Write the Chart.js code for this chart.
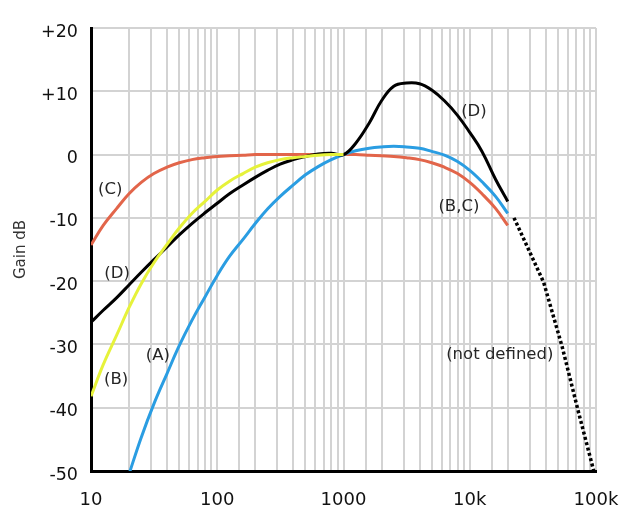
<!DOCTYPE html>
<html>
<head>
<meta charset="utf-8">
<script src="https://cdn.jsdelivr.net/npm/chart.js@4/dist/chart.umd.min.js"></script>
<style>
  body { margin: 0; background: #fff; }
</style>
</head>
<body>
<canvas id="weightChart" width="619" height="519"></canvas>
<script>
const freqs = [10, 12.5, 16, 20, 25, 31.5, 40, 50, 63, 80, 100, 125, 160, 200, 250, 315, 400, 500, 630, 800,
  1000, 1250, 1600, 2000, 2500, 3150, 4000, 5000, 6300, 8000, 10000, 12500, 16000, 20000];

const gainA = [null, null, null, -50.5, -44.7, -39.4, -34.6, -30.2, -26.2, -22.5, -19.1, -16.1, -13.4, -10.9, -8.6, -6.6, -4.8, -3.2, -1.9, -0.8,
  0, 0.6, 1.0, 1.2, 1.3, 1.2, 1.0, 0.5, -0.1, -1.1, -2.5, -4.3, -6.6, -9.3];
const gainB = [-38.2, -33.2, -28.5, -24.2, -20.4, -17.1, -14.2, -11.6, -9.3, -7.4, -5.6, -4.2, -3.0, -2.0, -1.3, -0.8, -0.5, -0.3, -0.1, 0,
  0, null, null, null, null, null, null, null, null, null, null, null, null, null];
const gainC = [-14.3, -11.2, -8.5, -6.2, -4.4, -3.0, -2.0, -1.3, -0.8, -0.5, -0.3, -0.2, -0.1, 0, 0, 0, 0, 0, 0, 0,
  0, 0, -0.1, -0.2, -0.3, -0.5, -0.8, -1.3, -2.0, -3.0, -4.4, -6.2, -8.5, -11.2];
const gainD = [-26.5, -24.6, -22.6, -20.6, -18.6, -16.6, -14.6, -12.7, -10.9, -9.2, -7.7, -6.2, -4.8, -3.6, -2.5, -1.5, -0.8, -0.3, 0.1, 0.2,
  0, 1.8, 5.0, 8.5, 10.8, 11.3, 11.2, 10.2, 8.5, 6.2, 3.5, 0.5, -3.9, -7.4];

// beyond 20 kHz, drawn dotted
const notDefFreq = [22400, 38500, 54000, 72000, 96000];
const notDefGain = [-10, -20.2, -30.4, -40.4, -50];

const yTicks = [-50, -40, -30, -20, -10, 0, 10, 20];
const xLabels = [10, 100, 1000, 10000, 100000];
const xLabelText = ["10", "100", "1000", "10k", "100k"];

const noteText = ["(C)", "(D)", "(B)", "(A)", "(D)", "(B,C)", "(not defined)"];
const noteFreq = [14.2, 16.1, 15.8, 33.9, 10800, 8200, 17300];
const noteGain = [-5.5, -18.9, -35.6, -31.8, 6.8, -8.3, -31.6];

function toPoints(xs, ys) {
  let pts = [];
  for (let i = 0; i < xs.length; i++) {
    if (ys[i] !== null) pts.push({ x: xs[i], y: ys[i] });
  }
  return pts;
}

const FONT = "'DejaVu Sans', sans-serif";

function curve(label, pts, color, order) {
  return {
    label: label,
    data: pts,
    borderColor: color,
    backgroundColor: color,
    borderWidth: 3,
    pointRadius: 0,
    tension: 0.4,
    fill: false,
    order: order,
  };
}

let notes = {
  id: "notes",
  afterDatasetsDraw(chart) {
    let ctx = chart.ctx;
    let xs = chart.scales.x;
    let ys = chart.scales.y;
    ctx.save();
    ctx.font = "16.5px " + FONT;
    ctx.fillStyle = "#262626";
    ctx.textAlign = "center";
    ctx.textBaseline = "middle";
    for (let i = 0; i < noteText.length; i++) {
      ctx.fillText(noteText[i], xs.getPixelForValue(noteFreq[i]), ys.getPixelForValue(noteGain[i]));
    }
    ctx.restore();
  },
};

let chart_Data = {
  datasets: [
    {
      label: "not defined",
      data: toPoints(notDefFreq, notDefGain),
      borderColor: "#000",
      borderWidth: 3.5,
      borderDash: [3, 2.5],
      pointRadius: 0,
      tension: 0,
      order: 5,
    },
    curve("(C)", toPoints(freqs, gainC), "#E2654A", 4),
    curve("(A)", toPoints(freqs, gainA), "#2A9DE2", 3),
    curve("(D)", toPoints(freqs, gainD), "#000000", 2),
    curve("(B)", toPoints(freqs, gainB), "#E6F23A", 1),
  ],
};

let options = {
  responsive: false,
  animation: false,
  layout: { padding: { left: 0, top: 28, right: 23, bottom: 0 } },
  plugins: {
    legend: { display: false },
    tooltip: { enabled: false },
  },
  scales: {
    x: {
      type: "logarithmic",
      min: 10,
      max: 100000,
      afterFit: (scale) => {
        scale.height = 48;
        scale.paddingLeft = 0;
        scale.paddingRight = 0;
      },
      grid: { color: "#d3d3d3", lineWidth: 2, drawTicks: false },
      border: { color: "#000", width: 3 },
      ticks: {
        autoSkip: false,
        maxRotation: 0,
        padding: 19,
        color: "#111",
        font: { family: FONT, size: 18 },
        callback: function (v) {
          let k = xLabels.indexOf(v);
          return k >= 0 ? xLabelText[k] : "";
        },
      },
    },
    y: {
      type: "linear",
      min: -50,
      max: 20,
      afterFit: (scale) => {
        scale.width = 91;
        scale.paddingTop = 0;
        scale.paddingBottom = 0;
      },
      afterBuildTicks: (scale) => { scale.ticks = yTicks.map((v) => ({ value: v })); },
      grid: { color: "#d3d3d3", lineWidth: 2, drawTicks: false },
      border: { color: "#000", width: 3 },
      ticks: {
        padding: 13,
        labelOffset: 4,
        color: "#111",
        font: { family: FONT, size: 17.5 },
        callback: (v) => (v > 0 ? "+" + v : "" + v),
      },
      title: {
        display: true,
        text: "Gain dB",
        color: "#333",
        font: { family: FONT, size: 15 },
        padding: { top: 12, bottom: 0 },
      },
    },
  },
};

var ctx = document.getElementById("weightChart").getContext("2d");
var myChart = new Chart(ctx, {
  type: "line",
  data: chart_Data,
  options: options,
  plugins: [notes],
});
</script>
</body>
</html>
